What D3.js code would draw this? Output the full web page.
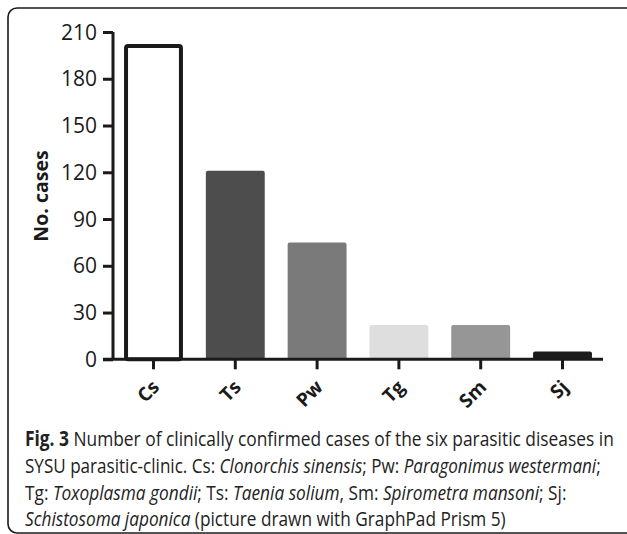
<!DOCTYPE html>
<html><head><meta charset="utf-8">
<script src="https://cdn.jsdelivr.net/npm/d3@7/dist/d3.min.js"></script>
<style>
html,body{margin:0;padding:0;background:#fff;}
svg{display:block;}
</style></head>
<body>
<svg id="chart" width="627" height="534"></svg>
<script>
const categories = ["Cs", "Ts", "Pw", "Tg", "Sm", "Sj"];
const cases = [201, 121, 75, 22, 22, 5];
const barColors = ["#ffffff", "#4d4d4d", "#7a7a7a", "#dedede", "#969696", "#1c1c1c"];
const yTicks = [0, 30, 60, 90, 120, 150, 180, 210];
const yTitle = "No. cases";
const captionLines = [
  [["Fig. 3", "b"], [" Number of clinically confirmed cases of the six parasitic diseases in", "n"]],
  [["SYSU parasitic-clinic. Cs: ", "n"], ["Clonorchis sinensis", "i"], ["; Pw: ", "n"], ["Paragonimus westermani", "i"], [";", "n"]],
  [["Tg: ", "n"], ["Toxoplasma gondii", "i"], ["; Ts: ", "n"], ["Taenia solium", "i"], [", Sm: ", "n"], ["Spirometra mansoni", "i"], ["; Sj:", "n"]],
  [["Schistosoma japonica", "i"], [" (picture drawn with GraphPad Prism 5)", "n"]]
];
const captionWidths = [589, 576, 542, 481];

const svg = d3.select("#chart");
const ink = "#1a1a1a";

// frame
svg.append("rect").attr("x", 8).attr("y", 8).attr("width", 640).attr("height", 525)
  .attr("rx", 9).attr("fill", "none").attr("stroke", ink).attr("stroke-width", 1.6);

const x = d3.scaleBand().domain(categories).range([113, 603]).paddingInner(0.28).paddingOuter(0.135);
const y = d3.scaleLinear().domain([0, 210]).range([359.3, 32]);

// bars
svg.append("g").selectAll("rect").data(categories).join("rect")
  .attr("x", (d, i) => i === 0 ? x(d) + 2 : x(d))
  .attr("width", (d, i) => i === 0 ? x.bandwidth() - 4 : x.bandwidth())
  .attr("y", (d, i) => y(cases[i]))
  .attr("height", (d, i) => y(0) - y(cases[i]))
  .attr("rx", 2)
  .attr("fill", (d, i) => barColors[i])
  .attr("stroke", (d, i) => i === 0 ? ink : "none")
  .attr("stroke-width", 4);

// y axis
const yAxis = svg.append("g").attr("transform", "translate(113,0)")
  .call(d3.axisLeft(y).tickValues(yTicks).tickSize(10).tickPadding(6));
yAxis.select(".domain").attr("stroke", ink).attr("stroke-width", 3).attr("d", `M0,${y(210)}V${y(0)}`);
yAxis.selectAll(".tick line").attr("stroke", ink).attr("stroke-width", 3);
yAxis.selectAll(".tick text").attr("font-family", "Open Sans").attr("font-size", 21)
  .attr("fill", ink).attr("dy", "0.34em");

// x axis
const xAxis = svg.append("g").attr("transform", `translate(0,${y(0)})`)
  .call(d3.axisBottom(x).tickSize(10).tickSizeOuter(0));
xAxis.select(".domain").attr("stroke", ink).attr("stroke-width", 3).attr("d", "M103,0H603");
xAxis.selectAll(".tick line").attr("stroke", ink).attr("stroke-width", 3);
xAxis.selectAll(".tick text")
  .attr("font-family", "Open Sans").attr("font-weight", "bold").attr("font-size", 19)
  .attr("fill", ink).attr("text-anchor", "end")
  .attr("y", 0).attr("dy", 0)
  .attr("transform", "translate(7,29) rotate(-45)");

// y title
svg.append("text").attr("transform", "translate(48,196) rotate(-90)")
  .attr("text-anchor", "middle").attr("font-family", "Open Sans").attr("font-weight", "bold")
  .attr("font-size", 19.5).attr("fill", ink).text(yTitle);

// caption
const cap = svg.append("g");
captionLines.forEach((line, li) => {
  const baseY = 446 + li * 26.8;
  const g = cap.append("g");
  const t = g.append("text").attr("x", 0).attr("y", 0)
    .attr("font-family", "Open Sans").attr("font-size", 20.5).attr("fill", "#222");
  line.forEach(([s, st]) => {
    t.append("tspan").text(s)
      .attr("font-weight", st === "b" ? "bold" : null)
      .attr("font-style", st === "i" ? "italic" : null);
  });
  const w = t.node().getComputedTextLength();
  const sx = captionWidths[li] / w;
  g.attr("transform", `translate(25,${baseY}) scale(${sx},1)`);
});
</script>
</body></html>
